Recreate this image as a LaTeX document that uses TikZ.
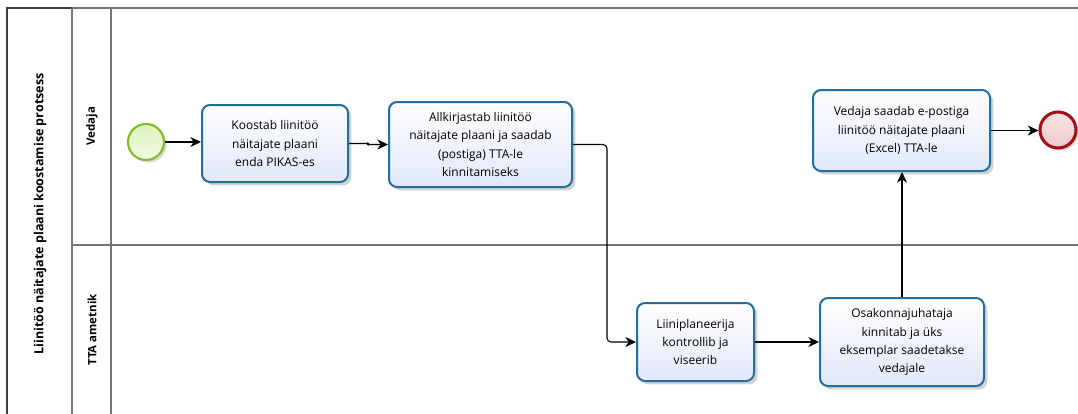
\documentclass[tikz,border=0pt]{standalone}
\usepackage{fontspec}
\setmainfont{Open Sans}
\usetikzlibrary{arrows.meta,shadows}
\definecolor{laneline}{RGB}{118,118,118}
\definecolor{taskline}{RGB}{36,110,158}
\definecolor{taskfill}{RGB}{226,232,250}
\definecolor{startline}{RGB}{128,190,40}
\definecolor{startfill}{RGB}{222,242,186}
\definecolor{endline}{RGB}{160,18,22}
\definecolor{endfill}{RGB}{240,200,202}
\tikzset{
  lane/.style={draw=laneline, line width=1.1pt},
  task/.style={draw=taskline, line width=1.5pt, rounded corners=6pt,
    top color=white, bottom color=taskfill, align=center,
    font=\fontsize{9}{13.6}\selectfont, inner sep=2pt,
    drop shadow={shadow xshift=2.5pt, shadow yshift=-2.5pt, opacity=0.18, fill=black}},
  startev/.style={circle, draw=startline, line width=1.6pt, minimum size=27pt,
    inner sep=0pt, top color=startfill, bottom color=white!60!startfill,
    drop shadow={shadow xshift=2pt, shadow yshift=-2pt, opacity=0.15, fill=black}},
  endev/.style={circle, draw=endline, line width=2.3pt, minimum size=27pt,
    inner sep=0pt, top color=white!50!endfill, bottom color=endfill,
    drop shadow={shadow xshift=2pt, shadow yshift=-2pt, opacity=0.15, fill=black}},
  flow/.style={draw=black, line width=0.8pt,
    -{Stealth[length=8pt, width=7.5pt, inset=2.5pt]}},
  lanelabel/.style={rotate=90, font=\fontsize{8.6}{10}\selectfont\bfseries},
}
\begin{document}
\begin{tikzpicture}[x=0.75pt, y=-0.75pt]
\useasboundingbox (0,0) rectangle (1078,414);
\fill[white] (0,0) rectangle (1078,414);

% pool and lane frame
\draw[lane] (72,8) -- (1078,8);
\draw[lane, draw=black!75] (7,414) -- (7,8) -- (72,8);
\draw[lane] (72,8) -- (72,414);
\draw[lane] (111,8) -- (111,414);
\draw[lane] (72,245) -- (1078,245);

% pool and lane headings
\node[lanelabel, font=\fontsize{9.4}{11}\selectfont\bfseries] (pool) at (40,214)
  {Liinitöö näitajate plaani koostamise protsess};
\node[lanelabel] (laneA) at (92,126) {Vedaja};
\node[lanelabel] (laneB) at (92,330) {TTA ametnik};

% events
\node[startev] (start) at (146,142) {};
\node[endev] (end) at (1058,130) {};

% tasks
\node[task, minimum width=109.5pt, minimum height=57.75pt] (t1) at (275,143.5)
  {Koostab liinitöö\\näitajate plaani\\enda PIKAS-es};
\node[task, minimum width=137.25pt, minimum height=63.75pt] (t2) at (480.5,144.5)
  {Allkirjastab liinitöö\\näitajate plaani ja saadab\\(postiga) TTA-le\\kinnitamiseks};
\node[task, minimum width=132.75pt, minimum height=60.75pt] (t3) at (901.5,130.5)
  {Vedaja saadab e-postiga\\liinitöö näitajate plaani\\(Excel) TTA-le};
\node[task, minimum width=87.75pt, minimum height=58.5pt] (t4) at (695.5,342)
  {Liiniplaneerija\\kontrollib ja\\viseerib};
\node[task, minimum width=123pt, minimum height=66pt] (t5) at (902,342)
  {Osakonnajuhataja\\kinnitab ja üks\\eksemplar saadetakse\\vedajale};

% sequence flows
\draw[flow] (start) -- (start -| t1.west);
\draw[flow, rounded corners=1pt] (t1.east) -- ++(19,0) |- (t2.west);
\draw[flow, rounded corners=3pt] (t2.east) -- ++(34,0) |- (t4.west);
\draw[flow] (t4.east) -- (t4.east -| t5.west);
\draw[flow] (t5.north) -- (t5.north |- t3.south);
\draw[flow] (t3.east) -- (t3.east -| end.west);
\end{tikzpicture}
\end{document}
